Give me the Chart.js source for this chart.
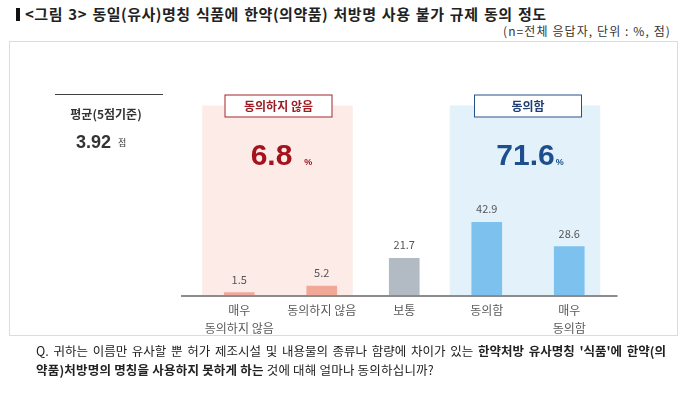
<!DOCTYPE html>
<html>
<head>
<meta charset="utf-8">
<script src="https://cdn.jsdelivr.net/npm/chart.js@4"></script>
<style>
  body { margin: 0; width: 691px; height: 395px; background: #fff; position: relative; overflow: hidden;
         font-family: "Noto Sans CJK KR", "Noto Sans", sans-serif; color: #222; }
  #title { position: absolute; left: 16px; top: 3px; font-size: 15px; font-weight: bold; letter-spacing: 0.5px; word-spacing: 1.5px; white-space: nowrap; }
  #title .mark { display: inline-block; width: 4px; height: 13px; background: #111; margin-right: 5px; vertical-align: -1px; }
  #unit { position: absolute; right: 20px; top: 22px; font-size: 12px; letter-spacing: 1.1px; color: #333; white-space: nowrap; }
  #frame { position: absolute; left: 9px; top: 41px; width: 667px; height: 293px; border: 1px solid #dcdcdc; }
  #question { position: absolute; left: 36px; top: 341px; width: 630px; font-size: 12.5px; line-height: 19px; color: #222; }
  #question .l1 { text-align: justify; text-align-last: justify; white-space: nowrap; }
  #question .l2 { letter-spacing: 0.2px; }
  #question b { font-weight: bold; }
  canvas { position: absolute; left: 0; top: 0; }
</style>
</head>
<body>
<div id="title"><span class="mark"></span>&lt;그림 3&gt; 동일(유사)명칭 식품에 한약(의약품) 처방명 사용 불가 규제 동의 정도</div>
<div id="unit">(n=전체 응답자, 단위 : %, 점)</div>
<div id="frame"></div>
<canvas id="chart" width="691" height="395"></canvas>
<div id="question">
  <div class="l1">Q. 귀하는 이름만 유사할 뿐 허가 제조시설 및 내용물의 종류나 함량에 차이가 있는 <b>한약처방 유사명칭 '식품'에 한약(의</b></div>
  <div class="l2"><b>약품)처방명의 명칭을 사용하지 못하게 하는</b> 것에 대해 얼마나 동의하십니까?</div>
</div>
<script>
// Data
const categories = [['매우', '동의하지 않음'], '동의하지 않음', '보통', '동의함', ['매우', '동의함']];
const values = [1.5, 5.2, 21.7, 42.9, 28.6];
const barColors = ['#f2a79e', '#f2a897', '#b2bac3', '#7dc1ef', '#7dc1ef'];
const groupNames = ['동의하지 않음', '동의함'];
const groupTotals = [6.8, 71.6];
const groupRanges = [[0, 1], [3, 4]];
const meanLabel = '평균(5점기준)';
const meanScore = 3.92;

const FONT = '"Noto Sans CJK KR", "Noto Sans", sans-serif';
const NUM_FONT = '"Liberation Sans", Arial, sans-serif';

// Draws shaded groups, group boxes, totals, mean and bar values
const decorPlugin = {
    id: 'decor',
    beforeDatasetsDraw(chart) {
        const ctx = chart.ctx;
        const x = chart.scales.x;
        const area = chart.chartArea;
        const fills = ['#fcebe7', '#e3f1fb'];
        ctx.save();
        groupRanges.forEach((r, i) => {
            const left = x.getPixelForValue(r[0]) - 37;
            const right = x.getPixelForValue(r[1]) + 31;
            ctx.fillStyle = fills[i];
            ctx.fillRect(left, area.top - 20, right - left, area.bottom - area.top + 20);
        });
        // axis line
        ctx.strokeStyle = '#8c8c8c';
        ctx.lineWidth = 2;
        ctx.beginPath();
        ctx.moveTo(area.left - 17, area.bottom + 1);
        ctx.lineTo(area.right + 7, area.bottom + 1);
        ctx.stroke();
        ctx.restore();
    },
    afterDatasetsDraw(chart) {
        const ctx = chart.ctx;
        const x = chart.scales.x;
        const area = chart.chartArea;
        const meta = chart.getDatasetMeta(0);
        ctx.save();

        // bar values
        ctx.font = '11px ' + FONT;
        ctx.fillStyle = '#555';
        ctx.textAlign = 'center';
        ctx.textBaseline = 'middle';
        meta.data.forEach((bar, i) => {
            ctx.fillText(values[i].toFixed(1), bar.x, bar.y - 13);
        });

        // group boxes and totals
        const borders = ['#a3222b', '#24508c'];
        const textCols = ['#9c1c24', '#1f3f73'];
        const bigCols = ['#a5121c', '#1d4f8f'];
        groupRanges.forEach((r, i) => {
            const cx = (x.getPixelForValue(r[0]) + x.getPixelForValue(r[1])) / 2;
            const bx = cx - 58 + (i === 0 ? 2 : 4);
            const by = area.top - 31;
            ctx.fillStyle = '#fff';
            ctx.fillRect(bx, by, 108, 23);
            ctx.strokeStyle = borders[i];
            ctx.lineWidth = 1;
            ctx.strokeRect(bx + 0.5, by + 0.5, 107, 22);
            ctx.fillStyle = textCols[i];
            ctx.font = 'bold 12px ' + FONT;
            ctx.textAlign = 'center';
            ctx.fillText(groupNames[i], bx + 54, by + 12);

            ctx.font = 'bold 30px ' + NUM_FONT;
            ctx.fillStyle = bigCols[i];
            const txt = groupTotals[i].toFixed(1);
            const w = ctx.measureText(txt).width;
            const gap = i === 0 ? 12 : 1;
            ctx.textAlign = 'left';
            ctx.textBaseline = 'alphabetic';
            const tx = cx - (w + gap + 6) / 2 + (i === 0 ? 0 : 1);
            ctx.fillText(txt, tx, area.top + 39);
            ctx.font = 'bold 9px ' + NUM_FONT;
            ctx.fillText('%', tx + w + gap, area.top + 39);
            ctx.textBaseline = 'middle';
        });

        // mean box
        ctx.strokeStyle = '#404040';
        ctx.lineWidth = 1;
        ctx.beginPath();
        ctx.moveTo(55, 94.5);
        ctx.lineTo(163, 94.5);
        ctx.stroke();
        ctx.fillStyle = '#333';
        ctx.font = 'bold 12px ' + FONT;
        ctx.textAlign = 'center';
        ctx.fillText(meanLabel, 106, 114);
        ctx.font = 'bold 18px ' + NUM_FONT;
        ctx.textAlign = 'left';
        ctx.fillText(meanScore.toFixed(2), 76, 143);
        ctx.font = '9px ' + FONT;
        ctx.fillText('점', 118, 143);
        ctx.restore();
    }
};

function initializeChart() {
    const ctx = document.getElementById('chart').getContext('2d');
    new Chart(ctx, {
        type: 'bar',
        data: {
            labels: categories,
            datasets: [{
                data: values,
                backgroundColor: barColors,
                barThickness: 30
            }]
        },
        options: {
            responsive: false,
            animation: false,
            layout: { padding: { left: 198, right: 80.5, top: 125.5, bottom: 50 } },
            plugins: {
                legend: { display: false },
                tooltip: { enabled: false }
            },
            scales: {
                y: { display: false, min: 0, max: 100 },
                x: {
                    grid: { display: false, drawTicks: false, tickLength: 0 },
                    border: { display: false },
                    ticks: {
                        padding: 6,
                        color: '#595959',
                        font: { family: FONT, size: 12, lineHeight: 1.5 }
                    },
                    afterFit(scale) { scale.height = 50; }
                }
            }
        },
        plugins: [decorPlugin]
    });
}

document.addEventListener('DOMContentLoaded', initializeChart);
</script>
</body>
</html>
